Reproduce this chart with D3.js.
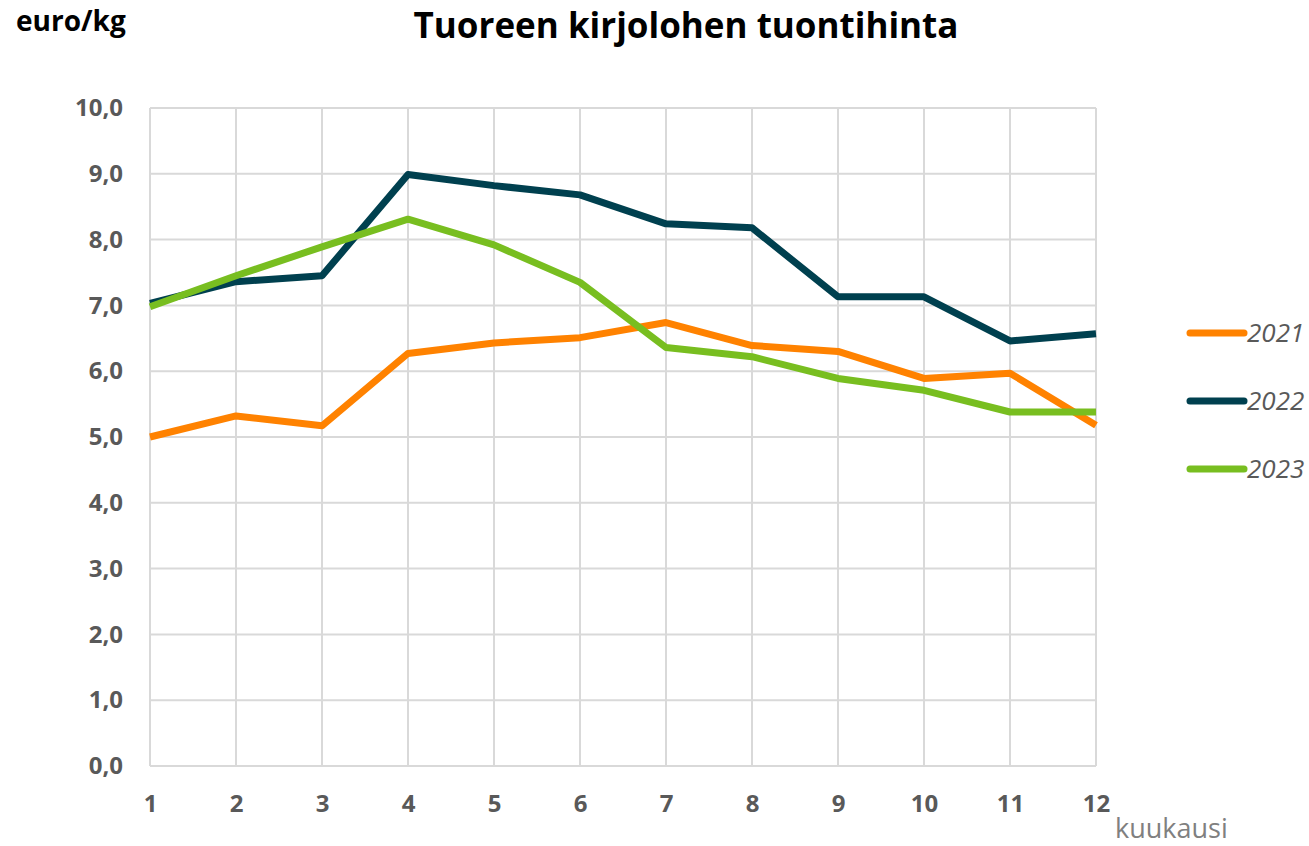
<!DOCTYPE html>
<meta charset="utf-8">
<style>
body { margin: 0; background: #fff; }
text { font-family: "Open Sans", sans-serif; }
.grid line { stroke: #d9d9d9; stroke-width: 2; }
.axis path, .axis line { display: none; }
.axis text { fill: #595959; font-weight: bold; font-size: 24px; }
</style>
<body>
<svg id="chart" width="1309" height="846"></svg>
</body>
<script src="https://d3js.org/d3.v7.min.js"></script>
<script>

var months = [1, 2, 3, 4, 5, 6, 7, 8, 9, 10, 11, 12];
var yTicks = [0, 1, 2, 3, 4, 5, 6, 7, 8, 9, 10];

var y2021 = [5.00, 5.32, 5.17, 6.27, 6.43, 6.51, 6.74, 6.39, 6.30, 5.89, 5.97, 5.18];
var y2022 = [7.03, 7.36, 7.45, 8.99, 8.82, 8.68, 8.24, 8.18, 7.13, 7.13, 6.46, 6.57];
var y2023 = [6.98, 7.45, 7.89, 8.31, 7.92, 7.35, 6.36, 6.22, 5.89, 5.71, 5.38, 5.38];

var seriesNames = ["2021", "2022", "2023"];
var seriesColors = ["#ff8200", "#00404f", "#78be20"];

var series = [y2021, y2022, y2023].map(function(v, i) {
  return { name: seriesNames[i], color: seriesColors[i], values: v };
});

var svg = d3.select("#chart"),
    margin = {top: 108, right: 213, bottom: 80, left: 150},
    width = +svg.attr("width") - margin.left - margin.right,
    height = +svg.attr("height") - margin.top - margin.bottom,
    g = svg.append("g").attr("transform", "translate(" + margin.left + "," + margin.top + ")");

var x = d3.scaleLinear().domain([1, 12]).range([0, width]);
var y = d3.scaleLinear().domain([0, 10]).range([height, 0]);

// gridlines
var grid = g.append("g").attr("class", "grid");
grid.selectAll(".h").data(yTicks).enter().append("line")
    .attr("x1", 0).attr("x2", width)
    .attr("y1", function(d) { return y(d); })
    .attr("y2", function(d) { return y(d); });
grid.selectAll(".v").data(months).enter().append("line")
    .attr("y1", 0).attr("y2", height)
    .attr("x1", function(d) { return x(d); })
    .attr("x2", function(d) { return x(d); });

// axes
g.append("g")
    .attr("class", "axis")
    .call(d3.axisLeft(y).tickValues(yTicks).tickSize(0).tickPadding(27)
      .tickFormat(function(d) { return d3.format(".1f")(d).replace(".", ","); }));

g.append("g")
    .attr("class", "axis")
    .attr("transform", "translate(0," + height + ")")
    .call(d3.axisBottom(x).tickValues(months).tickSize(0).tickPadding(29)
      .tickFormat(d3.format("d")));

// lines
var line = d3.line()
    .x(function(d, i) { return x(months[i]); })
    .y(function(d) { return y(d); });

g.selectAll(".serie").data(series).enter().append("path")
    .attr("class", "serie")
    .attr("fill", "none")
    .attr("stroke", function(d) { return d.color; })
    .attr("stroke-width", 7)
    .attr("stroke-linejoin", "round")
    .attr("d", function(d) { return line(d.values); });

// titles
svg.append("text")
    .attr("x", 686).attr("y", 38)
    .attr("text-anchor", "middle")
    .style("font-size", "35px")
    .style("font-weight", "bold")
    .attr("fill", "#000")
    .text("Tuoreen kirjolohen tuontihinta");

svg.append("text")
    .attr("x", 16).attr("y", 31)
    .style("font-size", "28px")
    .style("font-weight", "bold")
    .attr("fill", "#000")
    .text("euro/kg");

svg.append("text")
    .attr("x", 1115).attr("y", 838)
    .style("font-size", "27px")
    .attr("fill", "#808080")
    .text("kuukausi");

// legend
var legend = svg.selectAll(".legend").data(series).enter().append("g")
    .attr("class", "legend")
    .attr("transform", function(d, i) { return "translate(1190," + (333 + i * 68) + ")"; });

legend.append("line")
    .attr("x1", 0).attr("x2", 54)
    .attr("stroke", function(d) { return d.color; })
    .attr("stroke-width", 7)
    .attr("stroke-linecap", "round");

legend.append("text")
    .attr("x", 57).attr("dy", "0.35em")
    .style("font-size", "26px")
    .style("font-style", "italic")
    .attr("fill", "#595959")
    .text(function(d) { return d.name; });

</script>
